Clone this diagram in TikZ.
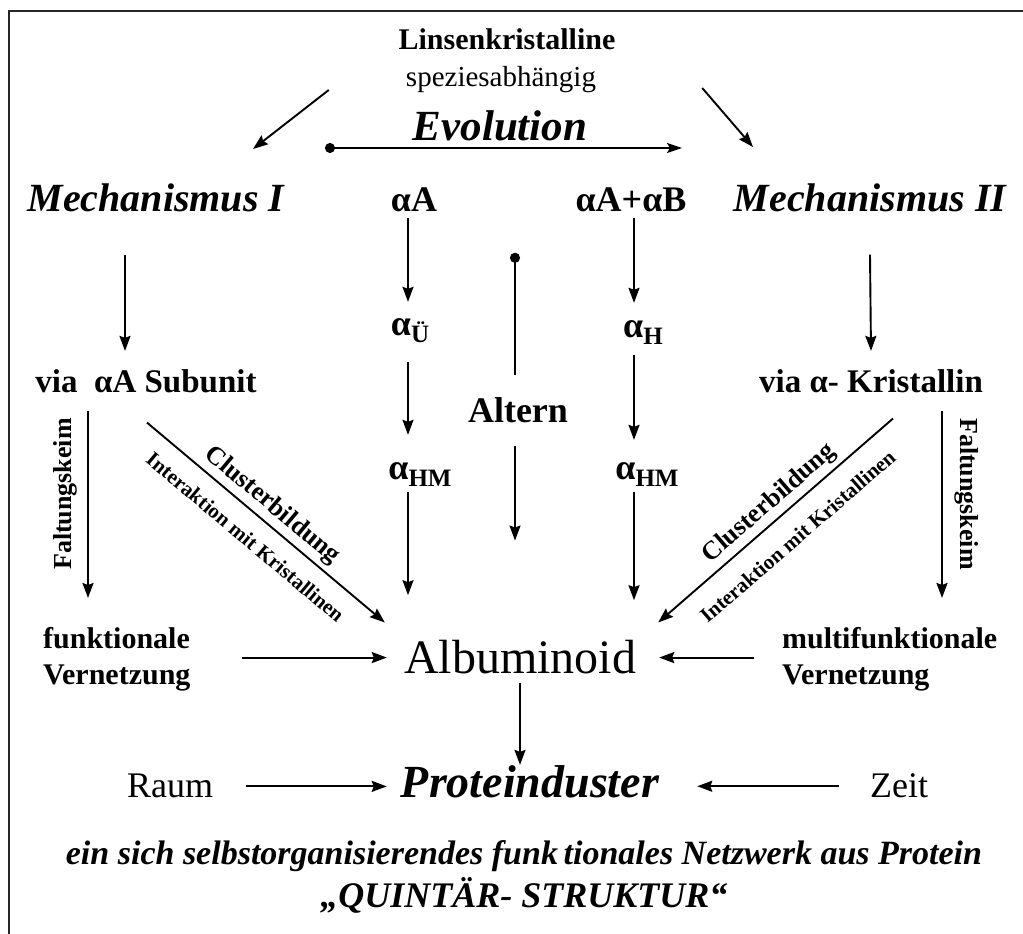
\documentclass[tikz,border=0pt]{standalone}
\usepackage{fontspec}
\setmainfont{Liberation Serif}
\usepackage{tikz}
\usetikzlibrary{arrows.meta}

\newcommand{\alphasub}[1]{α\raisebox{-7pt}{\fontsize{25}{25}\selectfont #1}}

\tikzset{
  every node/.style={inner sep=0pt},
  arr/.style={line width=1.9pt, -{Stealth[length=15pt,width=11pt,inset=2pt]}},
  pin/.style={line width=1.9pt, {Circle[length=10pt]}-},
  pinarr/.style={line width=1.9pt, {Circle[length=10pt]}-{Stealth[length=15pt,width=10pt,inset=3pt]}},
  head/.style={font=\bfseries\fontsize{30}{36}\selectfont},
  mech/.style={font=\bfseries\itshape\fontsize{40}{48}\selectfont},
  greek/.style={font=\bfseries\fontsize{36}{42}\selectfont},
  via/.style={font=\bfseries\fontsize{33}{40}\selectfont},
  netz/.style={font=\bfseries\fontsize{30}{36}\selectfont, align=left},
  fold/.style={font=\bfseries\fontsize{26}{30}\selectfont},
  clus/.style={font=\bfseries\fontsize{26}{30}\selectfont},
  inter/.style={font=\bfseries\fontsize{21}{25}\selectfont},
  plain/.style={font=\fontsize{36}{42}\selectfont},
  slogan/.style={font=\bfseries\itshape\fontsize{34}{40}\selectfont},
}

\begin{document}
\begin{tikzpicture}[x=1pt,y=1pt]
    \useasboundingbox (0,0) rectangle (1023,934);
    % Frame
    \draw[line width=1.5pt, black!85] (9,0) -- (9,923) -- (1023,923);

    % Top
    \node[head, anchor=base] (lk) at (507,884) {Linsenkristalline};
    \node[font=\fontsize{29}{34}\selectfont, anchor=base] (sp) at (501,847) {speziesabhängig};
    \node[font=\bfseries\itshape\fontsize{43}{50}\selectfont, anchor=base] (evo) at (500,793) {Evolution};
    \draw[pinarr] ([xshift=-175pt,yshift=-7pt]evo.base) -- ([xshift=182pt,yshift=-7pt]evo.base);

    % Row of mechanisms
    \node[mech, anchor=base] (m1) at (156,722) {Mechanismus I};
    \node[greek, anchor=base] (aA) at (414,722) {αA};
    \node[greek, anchor=base] (aAB) at (631,722) {αA+αB};
    \node[mech, anchor=base] (m2) at (870,722) {Mechanismus II};
    \draw[arr] ([xshift=-77pt,yshift=-3pt]sp.base west) -- ([xshift=97pt,yshift=35pt]m1.north);
    \draw[arr] ([xshift=106pt,yshift=-1pt]sp.base east) -- ([xshift=-117pt,yshift=37pt]m2.north);

    % Alpha chains
    \node[greek, anchor=base] (aU) at (410,598) {\alphasub{Ü}};
    \node[greek, anchor=base] (aH) at (643,596) {\alphasub{H}};
    \node[greek, anchor=base] (aHMa) at (420,454) {\alphasub{HM}};
    \node[greek, anchor=base] (aHMb) at (647,454) {\alphasub{HM}};
    \node[greek, anchor=base] (alt) at (518,511) {Altern};

    \draw[arr] ([xshift=-6pt,yshift=-5pt]aA.south) -- ([xshift=-2pt,yshift=17pt]aU.north);
    \draw[arr] ([xshift=-2pt,yshift=-19pt]aU.south) -- ([xshift=-12pt,yshift=28pt]aHMa.north);
    \draw[arr] ([xshift=-12pt,yshift=-5pt]aHMa.south) -- ([xshift=-12pt,yshift=-108pt]aHMa.south);
    \draw[arr] ([xshift=3pt,yshift=-5pt]aAB.south) -- ([xshift=-9pt,yshift=18pt]aH.north);
    \draw[arr] ([xshift=-9pt,yshift=-10pt]aH.south) -- ([xshift=-13pt,yshift=23pt]aHMb.north);
    \draw[arr] ([xshift=-13pt,yshift=-5pt]aHMb.south) -- ([xshift=-13pt,yshift=-113pt]aHMb.south);
    \draw[pin] ([xshift=-3pt,yshift=145pt]alt.north) -- ([xshift=-3pt,yshift=23pt]alt.north);
    \draw[arr] ([xshift=-3pt,yshift=-22pt]alt.south) -- ([xshift=-3pt,yshift=-117pt]alt.south);

    % Mechanism paths
    \node[via, anchor=base] (via1) at (146,541) {via\ \ αA Subunit};
    \node[via, anchor=base] (via2) at (871,541) {via α- Kristallin};
    \draw[arr] ([xshift=-31pt,yshift=-42pt]m1.south) -- ([xshift=-21pt,yshift=19pt]via1.north);
    \draw[arr] ([yshift=-42pt]m2.south) -- ([yshift=19pt]via2.north);

    \node[netz, anchor=north west] (fv1) at (43,307) {funktionale\\Vernetzung};
    \node[netz, anchor=north west] (fv2) at (782,307) {multifunktionale\\Vernetzung};
    \node[font=\fontsize{48}{56}\selectfont, anchor=base] (alb) at (520,260) {Albuminoid};

    \node[fold, rotate=90] (fk1) at (65,440) {Faltungskeim};
    \node[fold, rotate=-90] (fk2) at (967,440) {Faltungskeim};
    \draw[arr] ([xshift=-58pt,yshift=-17pt]via1.south) -- ([xshift=45pt,yshift=29pt]fv1.north west);
    \draw[arr] ([xshift=71pt,yshift=-17pt]via2.south) -- ([xshift=160pt,yshift=29pt]fv2.north west);

    \draw[arr] ([xshift=1pt,yshift=-29pt]via1.south) -- ([xshift=-19pt,yshift=18pt]alb.north west)
        node[clus, sloped, above=4pt, pos=.48] {Clusterbildung}
        node[inter, sloped, below=16pt, pos=.48] {Interaktion mit Kristallinen};
    \draw[arr] ([xshift=22pt,yshift=-25pt]via2.south) -- ([xshift=22pt,yshift=18pt]alb.north east)
        node[clus, sloped, above=4pt, pos=.48] {Clusterbildung}
        node[inter, sloped, below=18pt, pos=.48] {Interaktion mit Kristallinen};

    \draw[arr, shorten <=51pt, shorten >=17pt] (fv1.east |- alb.west) -- (alb.west);
    \draw[arr, shorten <=28pt, shorten >=23pt] (fv2.west |- alb.east) -- (alb.east);

    % Bottom
    \node[plain, anchor=base] (raum) at (170,136) {Raum};
    \node[font=\bfseries\itshape\fontsize{46}{54}\selectfont, anchor=base] (pc) at (530,136) {Proteinduster};
    \node[plain, anchor=base] (zeit) at (899,136) {Zeit};
    \draw[arr, shorten <=8pt, shorten >=1pt] (alb.south) -- (alb.south |- pc.north);
    \draw[arr, shorten <=33pt, shorten >=14pt] (raum.east) -- (raum.east -| pc.west);
    \draw[arr, shorten <=31pt, shorten >=38pt] (zeit.west) -- (zeit.west -| pc.east);

    \node[slogan, anchor=base] (net) at (524,69) {ein sich selbstorganisierendes funk\,tionales Netzwerk aus Protein};
    \node[slogan, font=\bfseries\itshape\fontsize{36}{42}\selectfont, anchor=base] (qs) at (524,26) {„QUINTÄR- STRUKTUR“};
\end{tikzpicture}
\end{document}
